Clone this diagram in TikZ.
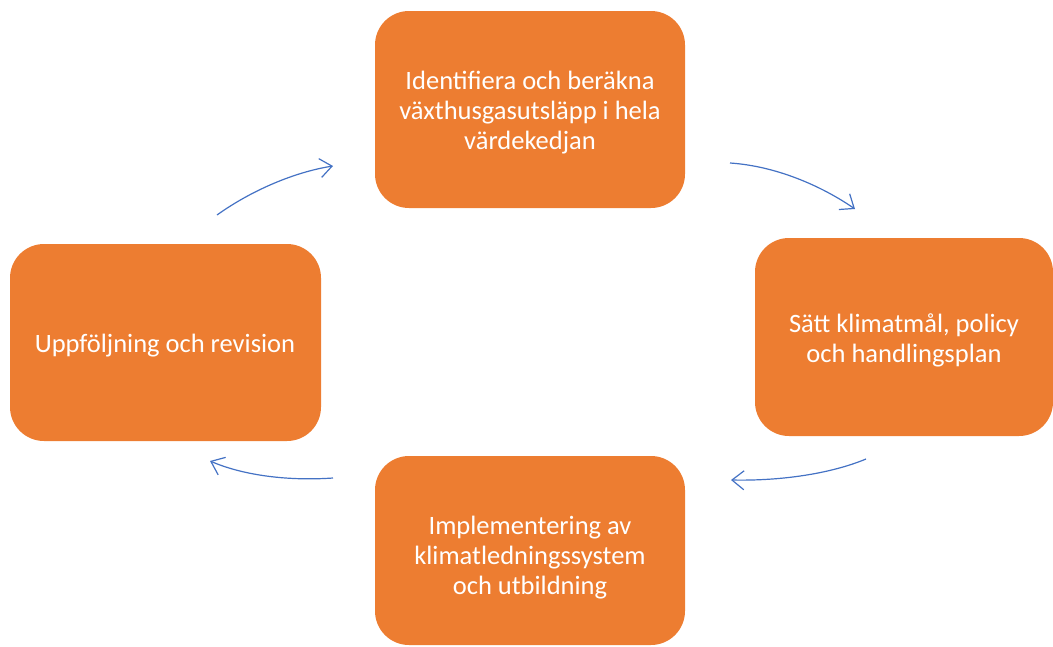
\documentclass[tikz,border=0pt]{standalone}
\usepackage{fontspec}
\setmainfont{Carlito}
\usetikzlibrary{arrows.meta}
\definecolor{boxorange}{HTML}{ED7D31}
\definecolor{arrowblue}{HTML}{4472C4}
\tikzset{
  boxfill/.style={fill=boxorange, rounded corners=34pt},
  boxtext/.style={text=white, align=center, font=\fontsize{26.5}{30}\selectfont, inner sep=0pt},
  cyclearrow/.style={draw=arrowblue, line width=1.2pt, -{Straight Barb[length=12pt,width=19pt,line width=1.2pt]}}
}
\begin{document}
\begin{tikzpicture}[x=1pt,y=-1pt]
\useasboundingbox (0,0) rectangle (1053,646);
% boxes
\fill[boxfill] (375,11) rectangle (685,208);
\node[boxtext] (top) at (530,112.5) {Identifiera och beräkna\\växthusgasutsläpp i hela\\värdekedjan};
\fill[boxfill] (755,238) rectangle (1053,436);
\node[boxtext] (right) at (904,340) {Sätt klimatmål, policy\\och handlingsplan};
\fill[boxfill] (375,456) rectangle (685,645);
\node[boxtext] (bottom) at (530,557.5) {Implementering av\\klimatledningssystem\\och utbildning};
\fill[boxfill] (10,244) rectangle (321,441);
\node[boxtext] (left) at (165,346) {Uppföljning och revision};
% arrow endpoints
\coordinate (a1s) at (217,215);
\coordinate (a1e) at (333,166);
\coordinate (a2s) at (730,163);
\coordinate (a2e) at (855,209);
\coordinate (a3s) at (866,459);
\coordinate (a3e) at (731,480);
\coordinate (a4s) at (333,478);
\coordinate (a4e) at (210,461);
\draw[cyclearrow] (a1s) .. controls (252,190) and (295,172) .. (a1e);
\draw[cyclearrow] (a2s) .. controls (775,166) and (820,185) .. (a2e);
\draw[cyclearrow] (a3s) .. controls (830,474) and (780,481) .. (a3e);
\draw[cyclearrow] (a4s) .. controls (290,481) and (245,476) .. (a4e);
\end{tikzpicture}
\end{document}
